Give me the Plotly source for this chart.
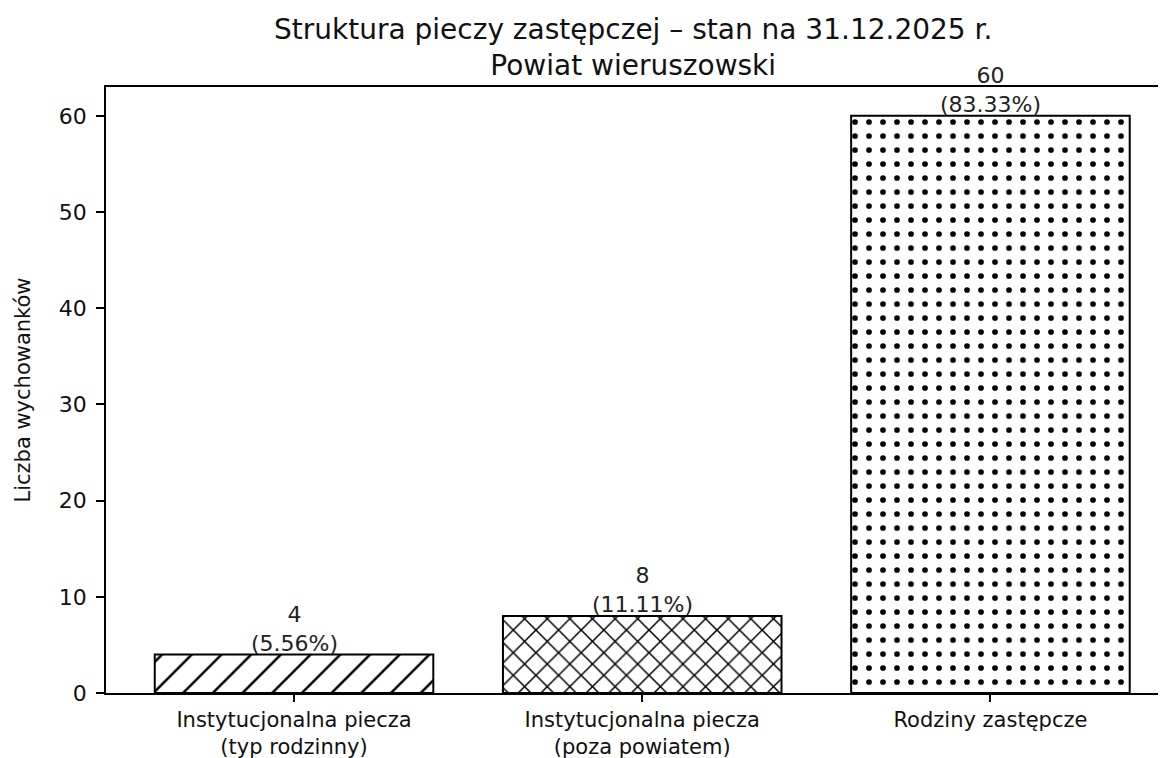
import plotly.graph_objects as go

categories = ["Instytucjonalna piecza<br>(typ rodzinny)",
              "Instytucjonalna piecza<br>(poza powiatem)",
              "Rodziny zastępcze"]
values = [4, 8, 60]
patterns = ["/", "x", "."]
pattern_sizes = [21, 16, 14]
pattern_solidity = [0.12, 0.18, 0.13]
y_ticks = [0, 10, 20, 30, 40, 50, 60]
title_text = "Struktura pieczy zastępczej – stan na 31.12.2025 r.<br>Powiat wieruszowski"
y_title = "Liczba wychowanków"

total = sum(values)
percents = [v / total * 100 for v in values]

FONT = "DejaVu Sans"

fig = go.Figure()
fig.add_trace(go.Bar(
    x=categories,
    y=values,
    width=0.8,
    marker=dict(
        color="white",
        line=dict(color="black", width=2),
        pattern=dict(shape=patterns, size=pattern_sizes, fgcolor="black",
                     bgcolor="white", solidity=pattern_solidity, fillmode="replace"),
    ),
    showlegend=False,
    hoverinfo="skip",
))

for c, v, p in zip(categories, values, percents):
    fig.add_annotation(x=c, y=v, text=f"{v}<br>({p:.2f}%)", showarrow=False,
                       yanchor="bottom", xanchor="center", yshift=-3,
                       font=dict(family=FONT, size=22, color="#222"))

fig.add_annotation(text=title_text, xref="paper", yref="paper", x=0.5, y=1,
                   xanchor="center", yanchor="bottom", yshift=3, showarrow=False,
                   font=dict(family=FONT, size=28, color="#111"))

fig.update_layout(
    width=1166, height=758,
    margin=dict(l=98, r=14, t=79, b=73),
    paper_bgcolor="white", plot_bgcolor="white",
    font=dict(family=FONT, color="black"),
    bargap=0.2,
)
fig.update_xaxes(
    range=[-0.54, 2.487], showline=True, mirror=True, linecolor="black", linewidth=1.5,
    ticks="outside", ticklen=7, tickcolor="black", tickwidth=1.5, automargin=False,
    tickfont=dict(family=FONT, size=21, color="#111"), showgrid=False,
)
fig.update_yaxes(
    range=[0, 63], tickvals=y_ticks, showline=True, mirror=True, linecolor="black", linewidth=1.5,
    ticks="outside", ticklen=8, tickcolor="black", tickwidth=1.5, ticklabelstandoff=5,
    automargin=False,
    tickfont=dict(family=FONT, size=22, color="#111"), showgrid=False, zeroline=False,
    title=dict(text=y_title, font=dict(family=FONT, size=21, color="#111"), standoff=22),
)

fig.write_html("out.html")
